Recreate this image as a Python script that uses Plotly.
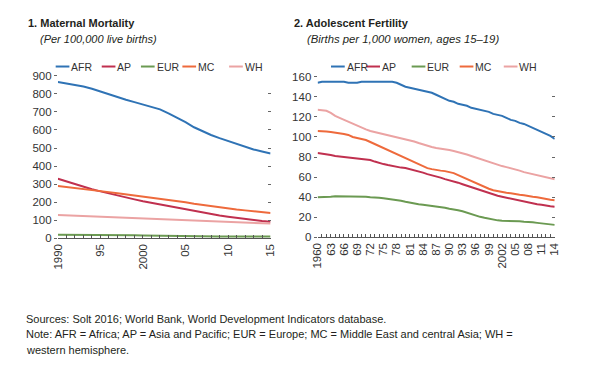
import plotly.graph_objects as go

# ---------------- data ----------------
regions = ["AFR", "AP", "EUR", "MC", "WH"]

mm_years = list(range(1990, 2016))
mm_afr = [865, 858, 850, 840, 828, 812, 797, 782, 767, 754, 742, 730, 714, 692, 668,
          643, 615, 592, 572, 555, 540, 523, 506, 492, 481, 470]
mm_ap = [330, 315, 300, 286, 272, 260, 248, 237, 226, 216, 206, 197, 188, 178, 170,
         162, 152, 143, 135, 127, 120, 113, 107, 101, 96, 92]
mm_eur = [20, 20, 20, 21, 21, 20, 19, 18, 18, 17, 16, 15, 15, 14, 14,
          13, 13, 12, 12, 11, 11, 11, 10, 10, 10, 10]
mm_mc = [290, 285, 280, 274, 268, 262, 256, 250, 244, 238, 233, 228, 222, 215, 208,
         200, 192, 185, 178, 171, 165, 160, 155, 150, 145, 140]
mm_wh = [130, 128, 126, 124, 122, 121, 119, 117, 115, 113, 111, 109, 107, 105, 103,
         101, 99, 97, 95, 93, 91, 89, 87, 85, 84, 82]

af_years = list(range(1960, 2015))
af_afr = [154, 155, 155, 155, 155, 155, 155, 154, 154, 154, 155, 155, 155, 155, 155,
          155, 155, 155, 154, 152, 150, 149, 148, 147, 146, 145, 144, 142, 140, 138,
          136, 135, 133, 132, 131, 129, 128, 127, 126, 125, 123, 122, 121, 119, 117,
          116, 114, 113, 111, 109, 107, 105, 103, 101, 98]
af_ap = [84, 83.5, 83, 82, 81, 80.5, 80, 79.5, 79, 78.5, 78, 77.5, 77, 75.5, 74,
         73, 72, 71, 70, 69.5, 69, 68, 67, 66, 64.5, 63, 62, 61, 59.5, 58,
         57, 56, 54.5, 53, 51.5, 50, 48.5, 47, 45.5, 44, 42.5, 41.5, 40.5, 39.5, 38.5,
         37.5, 36.5, 35.5, 34.5, 33.5, 33, 32.5, 31.5, 31, 30.5]
af_eur = [40, 40, 40, 40.5, 41, 41, 41, 41, 41, 41, 41, 40.5, 40, 40, 39.5,
          39, 38.5, 38, 37.5, 36.5, 35.5, 34.5, 34, 33, 32.5, 32, 31.5, 31, 30, 29.5,
          28.5, 28, 27, 26, 24.5, 23, 21.5, 20.5, 19.5, 18.5, 17.5, 17, 16.5, 16.5, 16.5,
          16, 16, 15.5, 15.5, 15, 14.5, 14, 13.5, 13, 12.5]
af_mc = [106, 106, 105.5, 105, 104.5, 104, 103, 102, 100, 99, 98, 97, 95, 93, 91,
         89, 87, 85, 83, 81, 79, 77, 75, 73, 71, 69, 68, 67, 66.5, 66,
         65, 64, 62, 60, 58, 56, 54, 52, 50, 48.5, 47, 46, 45, 44.5, 44,
         43, 42.5, 42, 41, 40.5, 40, 39, 38.5, 37.5, 37]
af_wh = [127, 126.5, 126, 124, 121, 119, 117, 115, 113, 111, 109, 107.5, 106, 105, 104,
         103, 102, 101, 100, 99, 98, 97, 95.5, 94, 92.5, 91, 90, 89, 88.5, 88,
         87, 86, 85, 84, 82.5, 81, 79.5, 78, 76.5, 75, 73.5, 72, 71, 70, 69,
         68, 66.5, 65, 64, 63, 62, 61, 60, 59, 58]

mm_ticks = [1990, 1995, 2000, 2005, 2010, 2015]
mm_ticktext = ["1990", "95", "2000", "05", "10", "15"]
af_ticks = list(range(1960, 2015, 3))
af_ticktext = ["1960", "63", "66", "69", "72", "75", "78", "81", "84", "87", "90",
               "93", "96", "99", "2002", "05", "08", "11", "14"]
mm_yticks = [0, 100, 200, 300, 400, 500, 600, 700, 800, 900]
af_yticks = [0, 20, 40, 60, 80, 100, 120, 140, 160]

# ---------------- style ----------------
colors = {"AFR": "#2f73b5", "AP": "#c0304f", "EUR": "#6b9a52", "MC": "#ee6a3c", "WH": "#eba3a3"}
FONT = "Liberation Sans Narrow, Arial Narrow, Liberation Sans, Arial, sans-serif"
TXT = "#231f20"
W, H = 596, 379

def px(x):
    return x / W

def py(y):
    return 1 - y / H

fig = go.Figure()

mm_series = {"AFR": mm_afr, "AP": mm_ap, "EUR": mm_eur, "MC": mm_mc, "WH": mm_wh}
af_series = {"AFR": af_afr, "AP": af_ap, "EUR": af_eur, "MC": af_mc, "WH": af_wh}

for r in regions:
    fig.add_trace(go.Scatter(x=mm_years, y=mm_series[r], mode="lines", name=r,
                             line=dict(color=colors[r], width=2), showlegend=False,
                             xaxis="x", yaxis="y"))
for r in regions:
    fig.add_trace(go.Scatter(x=af_years, y=af_series[r], mode="lines", name=r,
                             line=dict(color=colors[r], width=2), showlegend=False,
                             xaxis="x2", yaxis="y2"))

tickfont = dict(family=FONT, size=11.5, color="#333333")

xcommon = dict(showgrid=False, zeroline=False, showline=True, linecolor="#555555",
               linewidth=1, ticks="inside", ticklen=3, tickcolor="#555555",
               tickangle=-90, tickfont=tickfont, fixedrange=True)
ycommon = dict(showgrid=False, zeroline=False, showline=False, ticks="outside",
               ticklen=3, tickcolor="#666666", tickfont=tickfont, fixedrange=True)

fig.update_layout(
    width=W, height=H,
    margin=dict(l=0, r=0, t=0, b=0),
    paper_bgcolor="white", plot_bgcolor="white",
    showlegend=False,
    xaxis=dict(domain=[px(53), px(270)], range=[1990, 2015], anchor="y",
               tickmode="array", tickvals=mm_ticks, ticktext=mm_ticktext,
               minor=dict(dtick=1, tick0=1990, ticks="inside", ticklen=3, tickcolor="#555555"),
               **xcommon),
    yaxis=dict(domain=[py(240), py(72)], range=[0, 900], anchor="x",
               tickmode="array", tickvals=mm_yticks, **ycommon),
    yaxis3=dict(overlaying="y", side="right", anchor="x", range=[0, 900],
                tickmode="array", tickvals=mm_yticks, showticklabels=False,
                ticks="inside", ticklen=3, tickcolor="#666666", showgrid=False,
                zeroline=False, showline=False, fixedrange=True),
    xaxis2=dict(domain=[px(318), px(560)], range=[1960, 2014], anchor="y2",
                tickmode="array", tickvals=af_ticks, ticktext=af_ticktext,
                minor=dict(dtick=1, tick0=1960, ticks="inside", ticklen=3, tickcolor="#555555"),
                **xcommon),
    yaxis2=dict(domain=[py(239), py(73)], range=[0, 160], anchor="x2",
                tickmode="array", tickvals=af_yticks, **ycommon),
    yaxis4=dict(overlaying="y2", side="right", anchor="x2", range=[0, 160],
                tickmode="array", tickvals=af_yticks, showticklabels=False,
                ticks="inside", ticklen=3, tickcolor="#666666", showgrid=False,
                zeroline=False, showline=False, fixedrange=True),
)

# invisible traces so the mirrored tick axes render
fig.add_trace(go.Scatter(x=[None], y=[None], xaxis="x", yaxis="y3", showlegend=False, hoverinfo="skip"))
fig.add_trace(go.Scatter(x=[None], y=[None], xaxis="x2", yaxis="y4", showlegend=False, hoverinfo="skip"))

annotations = []
shapes = []

def text(x, y, s, size=12, xanchor="left", color=TXT):
    annotations.append(dict(x=px(x), y=py(y), xref="paper", yref="paper", text=s,
                            showarrow=False, xanchor=xanchor, yanchor="middle",
                            borderpad=0,
                            font=dict(family=FONT, size=size, color=color)))

# titles
text(21, 18, "<b>1. Maternal Mortality</b>", size=11)
text(34, 34, "<i>(Per 100,000 live births)</i>", size=11)
text(293, 18, "<b>2. Adolescent Fertility</b>", size=11)
text(306, 34, "<i>(Births per 1,000 women, ages 15–19)</i>", size=11.3)

# legends
leg_left_x = [50.7, 97.7, 137.7, 180, 227.7]
leg_right_x = [331.7, 367.7, 414, 463, 508]
leg_y = 62.5
for starts in (leg_left_x, leg_right_x):
    for r, x0 in zip(regions, starts):
        shapes.append(dict(type="line", xref="paper", yref="paper",
                           x0=px(x0), x1=px(x0 + 14), y0=py(leg_y), y1=py(leg_y),
                           line=dict(color=colors[r], width=2)))
        text(x0 + 15, leg_y, r, size=10.5, color="#333333")

# notes
text(19, 323, "Sources: Solt 2016; World Bank, World Development Indicators database.", size=11)
text(19, 339, "Note: AFR = Africa; AP = Asia and Pacific; EUR = Europe; MC = Middle East and central Asia; WH =", size=11)
text(19, 355, "western hemisphere.", size=11)

fig.update_layout(annotations=annotations, shapes=shapes)

fig.write_html("out.html", config={"displayModeBar": False},
               post_script="document.body.style.margin='0';document.body.style.padding='0';document.documentElement.style.overflow='hidden';")
